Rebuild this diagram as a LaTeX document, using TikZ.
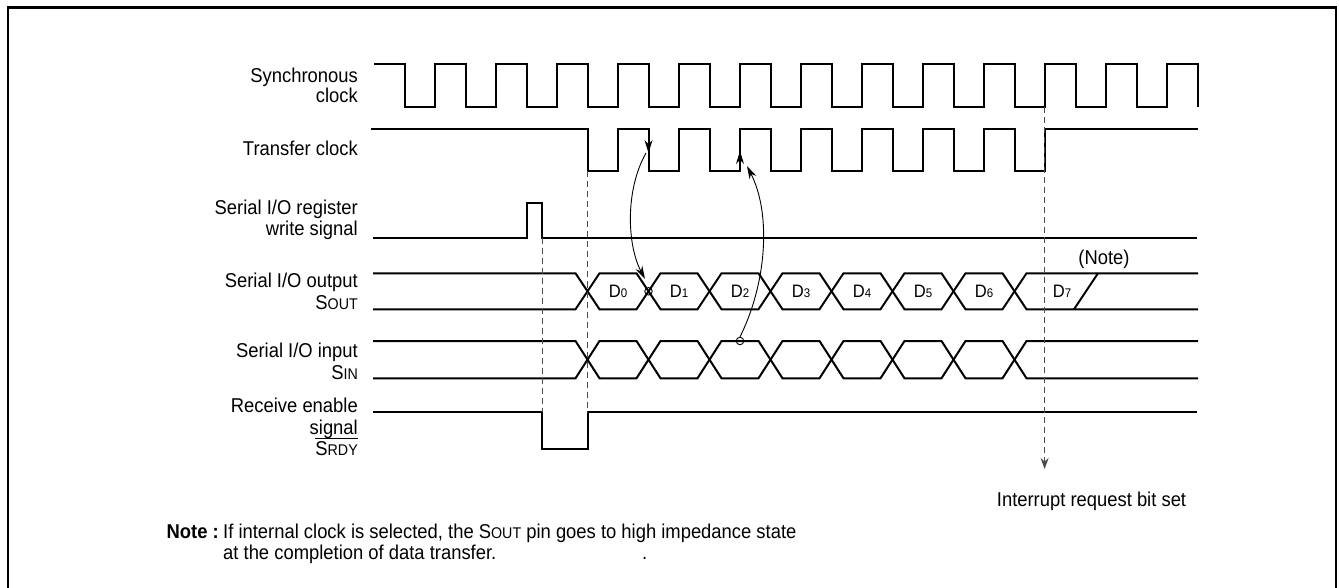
\documentclass[tikz,border=0pt]{standalone}
\usepackage{fontspec}
\setmainfont[FakeStretch=0.92]{Liberation Sans}
\usetikzlibrary{arrows.meta}
\newcommand\smc[1]{{\fontsize{15.5}{14}\selectfont #1}}
\newcommand\subd[1]{{\fontsize{12.5}{11}\selectfont #1}}
\begin{document}
\begin{tikzpicture}[x=1pt,y=-1pt,
  sig/.style={line width=2pt, line join=miter, line cap=butt},
  guide/.style={dash pattern=on 6pt off 4pt, line width=1pt, black!70},
  lbl/.style={anchor=base east, inner sep=0pt, font=\fontsize{20}{21}\selectfont},
  txt/.style={anchor=base west, inner sep=0pt, font=\fontsize{20}{21}\selectfont},
  dlbl/.style={anchor=base, inner sep=0pt, font=\fontsize{18}{16}\selectfont},
  curvearrow/.style={line width=0.9pt, -{Stealth[length=13pt,width=7.5pt]}},
  edgemark/.style={line width=1pt, -{Stealth[length=13pt,width=8pt]}},
  ring/.style={circle, draw, line width=0.9pt, minimum size=7.5pt, inner sep=0pt}
]
\useasboundingbox (0,0) rectangle (1339,588);
% frame
\draw[line width=2.8pt] (8,592) -- (8,7.5) -- (1336,7.5) -- (1336,592);

% labels
\node[lbl] (l1a) at (358,82.7) {Synchronous};
\node[lbl] (l1b) at (358,102.7) {clock};
\node[lbl] (l2) at (358,156) {Transfer clock};
\node[lbl] (l3a) at (358,214.3) {Serial I/O register};
\node[lbl] (l3b) at (358,235.7) {write signal};
\node[lbl] (l4a) at (358,287.3) {Serial I/O output};
\node[lbl] (l4b) at (358,309) {S\smc{OUT}};
\node[lbl] (l5a) at (358,357.3) {Serial I/O input};
\node[lbl] (l5b) at (358,379) {S\smc{IN}};
\node[lbl] (l6a) at (358,412.3) {Receive enable};
\node[lbl] (l6b) at (358,434) {signal};
\node[lbl] (l6c) at (358,455) {S\smc{RDY}};
\draw[line width=1pt] ([yshift=2.3pt]l6c.north west) -- ([yshift=2.3pt]l6c.north east);

% synchronous clock
\draw[sig] (374,64) foreach \k in {0,...,12} {
  -- ({404.5+61*\k},64) -- ({404.5+61*\k},107) -- ({435+61*\k},107) -- ({435+61*\k},64) }
  -- (1197.5,64) -- (1197.5,107);

% transfer clock
\draw[sig] (371,129.5) foreach \k in {3,...,10} {
  -- ({404.5+61*\k},129.5) -- ({404.5+61*\k},171.5) -- ({435+61*\k},171.5) -- ({435+61*\k},129.5) }
  -- (1198,129.5);

% write signal
\draw[sig] (373,238.3) -- (527,238.3) -- (527,203.3) -- (542,203.3) -- (542,238.3) -- (1197,238.3);

% receive enable
\draw[sig] (373,411.7) -- (542,411.7) -- (542,449) -- (588,449) -- (588,411.7) -- (1197,411.7);

% SOUT bus
\draw[sig] (373,273.3) foreach \i in {0,2,4,6} {
  -- ({587.5+61*\i-12},273.3) -- ({587.5+61*\i+12},309.3)
  -- ({587.5+61*(\i+1)-12},309.3) -- ({587.5+61*(\i+1)+12},273.3) }
  -- (1198,273.3);
\draw[sig] (373,309.3) foreach \i in {0,2,4,6} {
  -- ({587.5+61*\i-12},309.3) -- ({587.5+61*\i+12},273.3)
  -- ({587.5+61*(\i+1)-12},273.3) -- ({587.5+61*(\i+1)+12},309.3) }
  -- (1198,309.3);
\draw[sig] (1074,309.3) -- (1098,273.3);

% SIN bus
\draw[sig] (373,341) foreach \i in {0,2,4,6} {
  -- ({587.5+61*\i-12},341) -- ({587.5+61*\i+12},378.3)
  -- ({587.5+61*(\i+1)-12},378.3) -- ({587.5+61*(\i+1)+12},341) }
  -- (1198,341);
\draw[sig] (373,378.3) foreach \i in {0,2,4,6} {
  -- ({587.5+61*\i-12},378.3) -- ({587.5+61*\i+12},341)
  -- ({587.5+61*(\i+1)-12},341) -- ({587.5+61*(\i+1)+12},378.3) }
  -- (1198,378.3);

% data labels
\foreach \i in {0,...,6} {
  \node[dlbl] (d\i) at ({618+61*\i},297) {D\subd{\i}};
}
\node[dlbl] (d7) at (1062,297) {D\subd{7}};
\node[anchor=base, inner sep=0pt, font=\fontsize{20}{21}\selectfont] (note) at (1104,265) {(Note)};

% dashed guides
\draw[guide] (542,238.3) -- (542,411.7);
\draw[guide] (587.5,171.5) -- (587.5,411.7);
\coordinate (irq) at (1044.6,469);
\draw[guide, -{Stealth[length=11pt,width=8pt]}] (1044.6,107) -- (irq);

% edge markers
\draw[edgemark] (648.5,136) -- (648.5,153);
\draw[edgemark] (740,168) -- (740,151);

% rings
\node[ring] (r1) at (648.5,291.3) {};
\node[ring] (r2) at (740,341) {};

% causal curves
\coordinate (c1s) at (646,153);
\coordinate (c1e) at (645,279);
\draw[curvearrow] (c1s) .. controls (625,190) and (627,245) .. (c1e);
\coordinate (c2e) at (747,166);
\draw[curvearrow] (r2.north) .. controls (766,285) and (772,215) .. (c2e);

% texts
\node[txt] (irqt) at (996.7,506.7) {Interrupt request bit set};
\node[txt] (n0) at (166.5,538.3) {\textbf{Note :}};
\node[txt] (n1) at (223,538.3) {If internal clock is selected, the S\smc{OUT} pin goes to high impedance state};
\node[txt] (n2) at (223,559.3) {at the completion of data transfer.};
\node[txt] (n3) at (642,559.3) {.};
\end{tikzpicture}
\end{document}
